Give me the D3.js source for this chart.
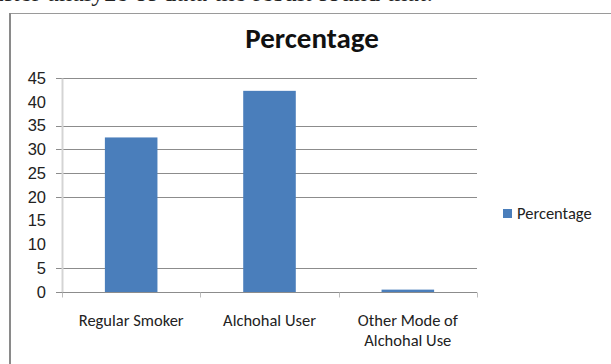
<!DOCTYPE html>
<html>
<head>
<meta charset="utf-8">
<script src="https://cdnjs.cloudflare.com/ajax/libs/d3/7.8.5/d3.min.js"></script>
<style>
  body { margin: 0; background: #fff; }
  svg { display: block; font-family: Carlito, "Open Sans", "Liberation Sans", sans-serif; }
</style>
</head>
<body>
<svg id="chart" width="611" height="364"></svg>
<script>
'use strict';

// chart data
var categories = ['Regular Smoker', 'Alchohal User', 'Other Mode of Alchohal Use'];
var values = [32.5, 42.3, 0.5];
var tickValues = [0, 5, 10, 15, 20, 25, 30, 35, 40, 45];
var gridValues = [5, 20, 25, 30, 35, 45]; // only these lines survive in the scan
var seriesName = 'Percentage';

var svg = d3.select('#chart');

// scanned page bits: text line cut off at the top and the frame
svg.append('text')
    .attr('x', -8)
    .attr('y', 1)
    .attr('textLength', 441)
    .style('font-family', '"Liberation Serif", "DejaVu Serif", serif')
    .style('font-size', '26px')
    .attr('fill', '#222')
    .text('after analyze of data the result found that.');

svg.append('line')
    .attr('x1', 10).attr('x2', 611)
    .attr('y1', 13.5).attr('y2', 13.5)
    .attr('stroke', '#9a9a9a').attr('stroke-width', 1);
svg.append('line')
    .attr('x1', 10).attr('x2', 10)
    .attr('y1', 13).attr('y2', 364)
    .attr('stroke', '#8a8a8a').attr('stroke-width', 2);

var plot = { left: 62, right: 477, top: 78, bottom: 292 };

var x = d3.scaleBand()
    .domain(categories)
    .range([plot.left, plot.right])
    .paddingInner(0.62)
    .paddingOuter(0.31);

var y = d3.scaleLinear()
    .domain([0, 45])
    .range([plot.bottom, plot.top]);

// title
svg.append('text')
    .attr('x', 312)
    .attr('y', 48)
    .attr('text-anchor', 'middle')
    .style('font-size', '29px')
    .style('font-weight', 'bold')
    .attr('fill', '#111')
    .text(seriesName);

// gridlines
svg.append('g')
    .selectAll('line')
    .data(gridValues)
    .enter()
    .append('line')
    .attr('x1', plot.left - 6)
    .attr('x2', plot.right)
    .attr('y1', function(d) { return Math.round(y(d)) + 0.5; })
    .attr('y2', function(d) { return Math.round(y(d)) + 0.5; })
    .attr('stroke', '#8c8c8c');

// y axis
var yAxis = svg.append('g')
    .attr('transform', 'translate(' + plot.left + ',0)')
    .call(d3.axisLeft(y).tickValues(tickValues).tickSize(0).tickPadding(16));
yAxis.select('.domain').attr('stroke', '#d4d4d4').attr('stroke-width', 2);
yAxis.selectAll('text')
    .style('font-size', '16.5px')
    .attr('fill', '#222')
    .attr('font-family', null);

// bars
svg.selectAll('rect.bar')
    .data(values)
    .enter()
    .append('rect')
    .attr('class', 'bar')
    .attr('x', function(d, i) { return x(categories[i]); })
    .attr('width', x.bandwidth())
    .attr('y', function(d) { return y(d); })
    .attr('height', function(d) { return plot.bottom - y(d); })
    .attr('fill', '#4a7ebb');

// x axis
var xAxis = svg.append('g')
    .attr('transform', 'translate(0,' + (plot.bottom + 0.5) + ')');
xAxis.append('line')
    .attr('x1', plot.left - 6).attr('x2', plot.right)
    .attr('stroke', '#8c8c8c');
xAxis.selectAll('line.tick')
    .data(d3.range(categories.length + 1))
    .enter()
    .append('line')
    .attr('class', 'tick')
    .attr('x1', function(i) { return Math.round(plot.left + i * (plot.right - plot.left) / categories.length) + 0.5; })
    .attr('x2', function(i) { return Math.round(plot.left + i * (plot.right - plot.left) / categories.length) + 0.5; })
    .attr('y1', 0).attr('y2', 5)
    .attr('stroke', '#bdbdbd');

var labelLines = [['Regular Smoker'], ['Alchohal User'], ['Other Mode of', 'Alchohal Use']];
xAxis.selectAll('text.cat')
    .data(categories)
    .enter()
    .append('text')
    .attr('class', 'cat')
    .attr('text-anchor', 'middle')
    .attr('x', function(d) { return x(d) + x.bandwidth() / 2; })
    .attr('y', 33.5)
    .style('font-size', '16.5px')
    .attr('fill', '#222')
    .each(function(d, i) {
        var t = d3.select(this);
        labelLines[i].forEach(function(s, k) {
            t.append('tspan')
                .attr('x', x(d) + x.bandwidth() / 2)
                .attr('dy', k === 0 ? 0 : 20)
                .text(s);
        });
    });

// legend
var legend = svg.append('g').attr('transform', 'translate(503,213)');
legend.append('rect')
    .attr('x', 0).attr('y', -4)
    .attr('width', 9).attr('height', 9)
    .attr('fill', '#4a7ebb');
legend.append('text')
    .attr('x', 14)
    .attr('y', 6)
    .style('font-size', '16.5px')
    .attr('fill', '#222')
    .text(seriesName);
</script>
</body>
</html>
